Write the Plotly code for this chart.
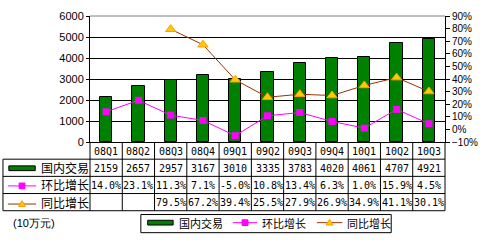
import plotly.graph_objects as go

categories = ["08Q1", "08Q2", "08Q3", "08Q4", "09Q1", "09Q2", "09Q3", "09Q4", "10Q1", "10Q2", "10Q3"]
domestic = [2159, 2657, 2957, 3167, 3010, 3335, 3783, 4020, 4061, 4707, 4921]
qoq = [14.0, 23.1, 11.3, 7.1, -5.0, 10.8, 13.4, 6.3, 1.0, 15.9, 4.5]
yoy = [None, None, 79.5, 67.2, 39.4, 25.5, 27.9, 26.9, 34.9, 41.1, 30.1]
series_names = ["国内交易", "环比增长", "同比增长"]
unit_label = "(10万元)"

W, H = 488, 243
L, R, T, B = 90, 35, 10, 101
PW, PH = W - L - R, H - T - B

GREEN = "#008000"
MAG = "#FF00FF"
BROWN = "#993300"
TRI_FILL = "#FFCC00"
TRI_LINE = "#FF9900"

def xp(px):
    return (px - L) / PW

def yp(py):
    return (H - B - py) / PH

fig = go.Figure()
fig.add_trace(go.Bar(x=categories, y=domestic, width=0.38, marker=dict(color=GREEN, line=dict(color="black", width=1)),
                     name=series_names[0], yaxis="y"))
fig.add_trace(go.Scatter(x=categories, y=qoq, mode="lines+markers", yaxis="y2", name=series_names[1],
                         line=dict(color=MAG, width=1), marker=dict(symbol="square", size=7, color=MAG)))
fig.add_trace(go.Scatter(x=categories, y=yoy, mode="lines+markers", yaxis="y2", name=series_names[2],
                         line=dict(color=BROWN, width=1),
                         marker=dict(symbol="triangle-up", size=9, color=TRI_FILL, line=dict(color=TRI_LINE, width=1))))

shapes = []
def hline(x0, x1, y, color="black"):
    shapes.append(dict(type="line", xref="paper", yref="paper", x0=xp(x0), x1=xp(x1), y0=yp(y), y1=yp(y),
                       line=dict(color=color, width=1)))
def vline(x, y0, y1, color="black"):
    shapes.append(dict(type="line", xref="paper", yref="paper", x0=xp(x), x1=xp(x), y0=yp(y0), y1=yp(y1),
                       line=dict(color=color, width=1)))

# top border of plot
hline(90, 453, 10, "#808080")
# table grid
for y in [160, 178, 196, 214]:
    hline(1, 453, y)
vline(1, 160, 214)
n = len(categories)
colw = PW / n
for k in range(n + 1):
    vline(L + colw * k, 142, 214)

annotations = []
tfont = dict(family="DejaVu Sans Mono", size=10, color="black")
cfont = dict(family="Noto Sans CJK SC", size=12, color="black")
rows_text = [
    categories,
    [str(v) for v in domestic],
    [f"{v:.1f}%" for v in qoq],
    ["" if v is None else f"{v:.1f}%" for v in yoy],
]
row_centers = [151, 169, 187, 205]
for r, texts in enumerate(rows_text):
    for i, t in enumerate(texts):
        if t == "":
            continue
        annotations.append(dict(x=xp(L + colw * (i + 0.5)), y=yp(row_centers[r] + 0.5), xref="paper", yref="paper",
                                text=t, showarrow=False, xanchor="center", yanchor="middle", font=tfont))
# row labels
for j, nm in enumerate(series_names):
    annotations.append(dict(x=xp(38), y=yp(row_centers[j + 1]), xref="paper", yref="paper", text=nm,
                            showarrow=False, xanchor="left", yanchor="middle", font=cfont))

def icon(kind, x0, x1, yc, msize):
    xm = (x0 + x1) / 2
    if kind == 0:
        shapes.append(dict(type="rect", xref="paper", yref="paper", x0=xp(x0), x1=xp(x1), y0=yp(yc + 2.5),
                           y1=yp(yc - 2.5), fillcolor=GREEN, line=dict(color="black", width=1)))
    elif kind == 1:
        hline(x0, x1, yc, MAG)
        s = msize / 2
        shapes.append(dict(type="rect", xref="paper", yref="paper", x0=xp(xm - s), x1=xp(xm + s), y0=yp(yc + s),
                           y1=yp(yc - s), fillcolor=MAG, line=dict(color=MAG, width=1)))
    else:
        hline(x0, x1, yc, BROWN)
        s = msize / 2
        path = f"M {xp(xm - s)},{yp(yc + s - 1)} L {xp(xm + s)},{yp(yc + s - 1)} L {xp(xm)},{yp(yc - s)} Z"
        shapes.append(dict(type="path", xref="paper", yref="paper", path=path, fillcolor=TRI_FILL,
                           line=dict(color=TRI_LINE, width=1)))

icon(0, 7, 34, 169.5, 6)
icon(1, 6, 35, 188, 6)
icon(2, 6, 35, 207, 7)

# bottom legend
shapes.append(dict(type="rect", xref="paper", yref="paper", x0=xp(142), x1=xp(398), y0=yp(237), y1=yp(218),
                   line=dict(color="black", width=1), fillcolor="rgba(0,0,0,0)"))
lfont = dict(family="Noto Sans CJK SC", size=11, color="black")
icon(0, 149, 175, 226.5, 6)
icon(1, 236, 261, 226.5, 6)
icon(2, 322, 348, 226.5, 7)
for xs, nm in zip([179, 264, 351], series_names):
    annotations.append(dict(x=xp(xs), y=yp(227), xref="paper", yref="paper", text=nm, showarrow=False,
                            xanchor="left", yanchor="middle", font=lfont))

annotations.append(dict(x=xp(9), y=yp(227), xref="paper", yref="paper", text=unit_label, showarrow=False,
                        xanchor="left", yanchor="middle", font=dict(family="Liberation Sans", size=11, color="black")))

fig.update_layout(
    width=W, height=H, margin=dict(l=L, r=R, t=T, b=B, pad=0),
    paper_bgcolor="white", plot_bgcolor="white", showlegend=False,
    bargap=0,
    xaxis=dict(type="category", range=[-0.5, n - 0.5], showticklabels=False, ticks="", showgrid=False,
               showline=True, linecolor="black", linewidth=1, zeroline=False, fixedrange=True),
    yaxis=dict(range=[0, 6000], dtick=1000, tick0=0, showgrid=True, gridcolor="black", gridwidth=1,
               showline=True, linecolor="black", linewidth=1, ticks="outside", ticklen=3, tickcolor="black",
               tickfont=dict(family="Liberation Sans", size=11, color="black"), zeroline=False),
    yaxis2=dict(range=[-10, 90], dtick=10, tick0=0, overlaying="y", side="right", showgrid=False,
                showline=True, linecolor="black", linewidth=1, ticks="outside", ticklen=4, tickcolor="black",
                ticksuffix="%", tickfont=dict(family="Liberation Sans", size=10, color="black"), zeroline=False),
    shapes=shapes, annotations=annotations,
)

fig.write_html("out.html")
